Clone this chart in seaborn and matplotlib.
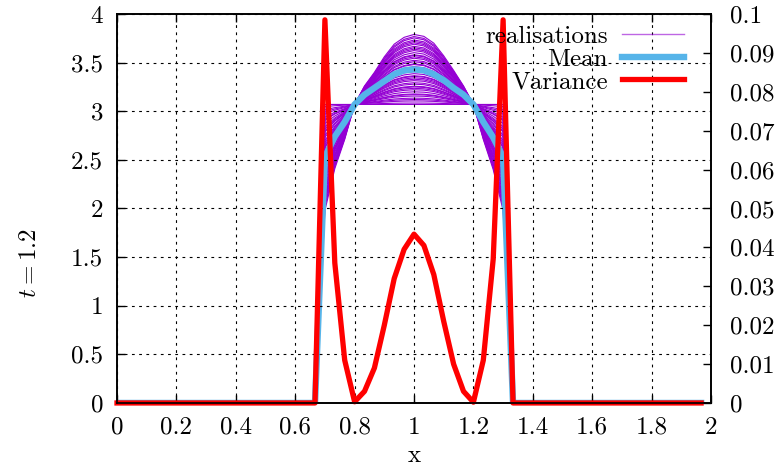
import numpy as np
import pandas as pd
import matplotlib
matplotlib.use("Agg")
import matplotlib.pyplot as plt
from matplotlib.lines import Line2D
from matplotlib.ticker import FuncFormatter, MultipleLocator
import seaborn as sns

# mesh: 60 points, dx = 1/30, last one at 1.9667
x = np.arange(60) / 30.0
first = 21   # first mesh point inside the pulse (x = 0.7)

plateau = 3.07   # flat realisation level
# peaked realisation minus flat one, x = 0.7 ... 1.3
dev_in = [-1.09, -0.66, -0.36, 0.0, 0.19, 0.33, 0.49, 0.62, 0.69, 0.72,
          0.70, 0.63, 0.50, 0.35, 0.19, 0.0, -0.36, -0.67, -1.09]
mean_in = [2.53, 2.74, 2.89, 3.07, 3.17, 3.24, 3.31, 3.38, 3.42, 3.43,
           3.42, 3.38, 3.32, 3.24, 3.17, 3.07, 2.89, 2.73, 2.53]
var_in = [0.0985, 0.036, 0.011, 0.0003, 0.003, 0.009, 0.020, 0.032, 0.0395, 0.0434,
          0.0405, 0.033, 0.021, 0.010, 0.003, 0.0002, 0.011, 0.037, 0.0985]
# weight of the peaked shape in each realisation
coefs = [0.00, 0.02, 0.05, 0.07, 0.09, 0.12, 0.14, 0.15, 0.18, 0.21, 0.23, 0.25,
         0.26, 0.29, 0.31, 0.34, 0.36, 0.38, 0.40, 0.41, 0.44, 0.47, 0.49, 0.52,
         0.54, 0.57, 0.58, 0.61, 0.63, 0.66, 0.68, 0.70, 0.71, 0.74, 0.77, 0.79,
         0.81, 0.83, 0.86, 0.88, 0.90, 0.92, 0.95, 0.97, 1.00]

n_in = len(dev_in)
base = np.zeros(len(x)); base[first:first + n_in] = plateau
dev = np.zeros(len(x)); dev[first:first + n_in] = dev_in
mean = np.zeros(len(x)); mean[first:first + n_in] = mean_in
var = np.zeros(len(x)); var[first:first + n_in] = var_in

rows = []
for k, c in enumerate(coefs):
    rows.append(pd.DataFrame({"x": x, "u": base + c * dev, "run": k}))
real = pd.concat(rows, ignore_index=True)

plt.rcParams["font.family"] = "serif"
plt.rcParams["font.serif"] = ["cmr10", "DejaVu Serif"]
plt.rcParams["mathtext.fontset"] = "cm"
plt.rcParams["axes.formatter.use_mathtext"] = True

purple = "#9400D3"
blue = "#56B4E9"
red = "#FF0000"
fs = 18

fig, ax = plt.subplots(figsize=(7.81, 4.70), dpi=100)
fig.subplots_adjust(left=0.1498, right=0.9104, top=0.9702, bottom=0.1426)

sns.lineplot(data=real, x="x", y="u", units="run", estimator=None,
             color=purple, lw=0.8, ax=ax, legend=False)
sns.lineplot(x=x, y=mean, color=blue, lw=4.6, ax=ax)

ax.set_xlim(0, 2)
ax.set_ylim(0, 4)
ax.xaxis.set_major_locator(MultipleLocator(0.2))
ax.yaxis.set_major_locator(MultipleLocator(0.5))
fmt = FuncFormatter(lambda v, p: f"{v:g}")
ax.xaxis.set_major_formatter(fmt)
ax.yaxis.set_major_formatter(fmt)
ax.tick_params(direction="in", length=6, width=1, top=True, right=False,
               labelsize=fs, pad=10)
ax.grid(True, color="black", linestyle=(0, (2.5, 4)), lw=0.8)
ax.set_axisbelow(False)
ax.set_xlabel("x", fontsize=fs, labelpad=4)
ax.set_ylabel(r"$t = 1.2$", fontsize=fs)
ax.yaxis.set_label_coords(-0.128, 0.36)

ax2 = ax.twinx()
sns.lineplot(x=x, y=var, color=red, lw=3.8, ax=ax2, clip_on=False)
ax2.set_ylim(0, 0.1)
ax2.yaxis.set_major_locator(MultipleLocator(0.01))
ax2.yaxis.set_major_formatter(fmt)
ax2.tick_params(direction="in", length=6, width=1, labelsize=fs, pad=14)
ax2.set_ylabel("")

for a in (ax, ax2):
    for s in a.spines.values():
        s.set_linewidth(1.2)
        s.set_color("black")

handles = [Line2D([], [], color=purple, lw=1.0, alpha=0.6),
           Line2D([], [], color=blue, lw=4.6),
           Line2D([], [], color=red, lw=3.8)]
labels = ["realisations", "Mean", "Variance"]
ax2.legend(handles, labels, loc="upper right", bbox_to_anchor=(0.955, 0.97),
           frameon=False, markerfirst=False, fontsize=fs, handlelength=2.5,
           handletextpad=0.55, labelspacing=0.0, borderpad=0, borderaxespad=0)

fig.savefig("out.png", dpi=100)
